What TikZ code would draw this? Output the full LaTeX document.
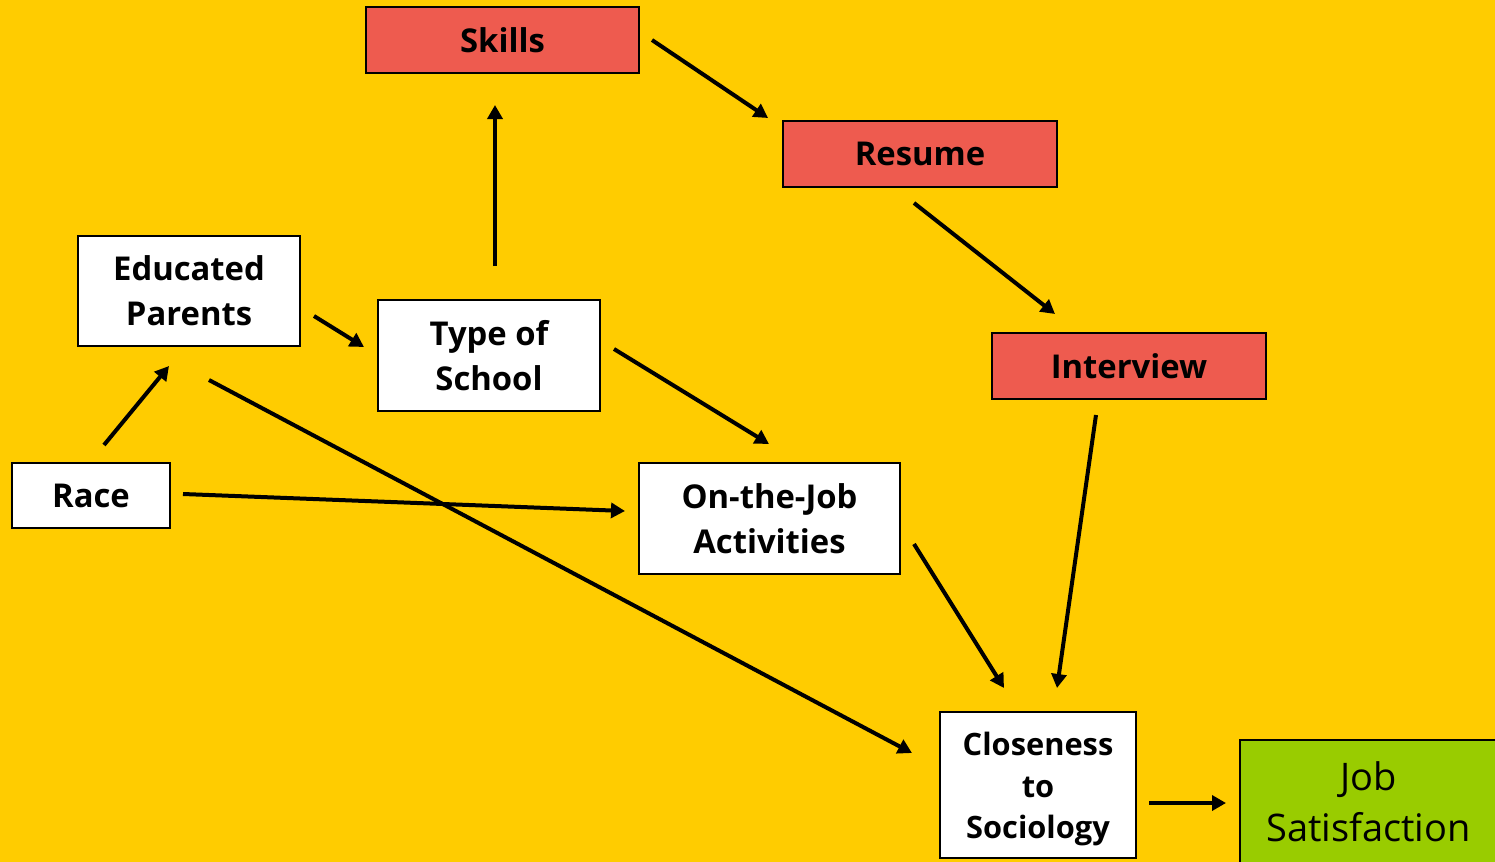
\documentclass[tikz,border=0pt]{standalone}
\usepackage{fontspec}
\setmainfont{Open Sans}
\usetikzlibrary{arrows.meta}
\definecolor{bgyellow}{HTML}{FFCC00}
\definecolor{boxred}{HTML}{EE5B4F}
\definecolor{boxgreen}{HTML}{99CC00}
\tikzset{
  box/.style={draw=black, line width=1pt, rectangle, align=center, inner sep=0pt,
    font=\bfseries\fontsize{16.4}{22.5}\selectfont},
  redbox/.style={box, fill=boxred},
  whitebox/.style={box, fill=white},
  conn/.style={line width=2pt, -{Triangle[length=7pt,width=7.5pt]}}
}
\begin{document}
\begin{tikzpicture}[x=0.5pt,y=-0.5pt]
\useasboundingbox (0,0) rectangle (1495,862);
\fill[bgyellow] (0,0) rectangle (1495,862);
% nodes
\node[redbox, minimum width=136.5pt, minimum height=33pt] (skills) at (502.5,40) {Skills};
\node[redbox, minimum width=137pt, minimum height=33pt] (resume) at (920,154) {Resume};
\node[redbox, minimum width=137pt, minimum height=33pt] (interview) at (1129,366) {Interview};
\node[whitebox, minimum width=111pt, minimum height=55pt] (parents) at (189,291) {Educated\\Parents};
\node[whitebox, minimum width=111pt, minimum height=55.5pt] (school) at (489,355.5) {Type of\\School};
\node[whitebox, minimum width=79pt, minimum height=32.5pt] (race) at (91,495.5) {Race};
\node[whitebox, minimum width=130.5pt, minimum height=55.5pt] (onjob) at (769.5,518.5) {On-the-Job\\Activities};
\node[whitebox, minimum width=98pt, minimum height=73pt, font=\bfseries\fontsize{15.4}{20.7}\selectfont] (close) at (1038,785) {\rule{0pt}{15.7pt}Closeness\\to\\Sociology};
\node[box, fill=boxgreen, minimum width=128.5pt, minimum height=62pt, font=\fontsize{19}{25.5}\selectfont] (jobsat) at (1368.5,802) {Job\\Satisfaction};
% connector end points
\coordinate (s1) at (652,40);   \coordinate (e1) at (768,118);
\coordinate (s2) at (495,266);  \coordinate (e2) at (495,105);
\coordinate (s3) at (914,203);  \coordinate (e3) at (1055,314);
\coordinate (s4) at (314,316);  \coordinate (e4) at (364,347);
\coordinate (s5) at (104,445);  \coordinate (e5) at (169,366);
\coordinate (s6) at (209,380);  \coordinate (e6) at (912,753);
\coordinate (s7) at (183,494);  \coordinate (e7) at (625,511);
\coordinate (s8) at (614,349);  \coordinate (e8) at (769,444);
\coordinate (s9) at (914,544);  \coordinate (e9) at (1004,688);
\coordinate (s10) at (1096,415); \coordinate (e10) at (1057,688);
\coordinate (s11) at (1149,803); \coordinate (e11) at (1226,803);
% connectors
\draw[conn] (s1) -- (e1);
\draw[conn] (s2) -- (e2);
\draw[conn] (s3) -- (e3);
\draw[conn] (s4) -- (e4);
\draw[conn] (s5) -- (e5);
\draw[conn] (s6) -- (e6);
\draw[conn] (s7) -- (e7);
\draw[conn] (s8) -- (e8);
\draw[conn] (s9) -- (e9);
\draw[conn] (s10) -- (e10);
\draw[conn] (s11) -- (e11);
\end{tikzpicture}
\end{document}
